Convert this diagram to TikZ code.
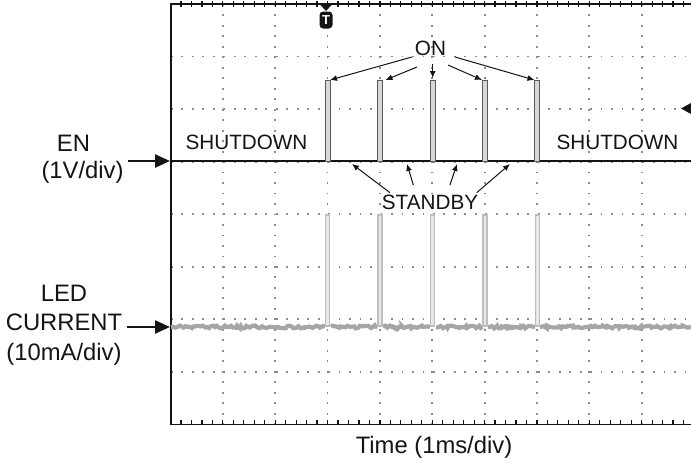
\documentclass[tikz,border=0pt]{standalone}
\usepackage{fontspec}
\setmainfont{Liberation Sans}
\usepackage{xcolor}
\usetikzlibrary{arrows.meta,calc,decorations.pathmorphing}
\definecolor{Trace}{HTML}{141414}
\definecolor{GridDot}{HTML}{8C8C8C}
\definecolor{LedGrey}{HTML}{A6A6A6}
\definecolor{PulseGrey}{HTML}{BEBEBE}

\begin{document}
\begin{tikzpicture}[x=0.5pt,y=-0.5pt,
    callout/.style={draw=Trace,line width=0.5pt,-{Latex[length=3.5pt,width=3pt]}},
    probe/.style={draw=Trace,line width=1.2pt,-{Triangle[length=7.5pt,width=6.5pt]}},
    tag/.style={font=\fontsize{10.35}{12}\selectfont,text=Trace,inner sep=0pt},
    axislabel/.style={font=\fontsize{11.9}{14.75}\selectfont,text=Trace,inner sep=2pt,align=center},
    griddot/.style={draw=GridDot,line width=0.9pt,dash pattern=on 0.9pt off 4.34pt},
    ledtrace/.style={draw=LedGrey,line width=2.1pt,decorate,
        decoration={random steps,segment length=1pt,amplitude=0.7pt}}]
    \useasboundingbox (0,0) rectangle (691,466);
    \pgfmathsetseed{7}

    % graticule
    \foreach \i in {1,...,9}
        \draw[griddot] ({170.5+52.35*\i},4) -- ++(0,420.4);
    \foreach \j in {1,...,7}
        \draw[griddot] (171,{4+52.55*\j}) -- (691,{4+52.55*\j});
    \foreach \k in {1,...,49} {
        \draw[Trace,line width=0.6pt] ({170.5+10.47*\k},1) -- ++(0,6);
        \draw[Trace,line width=0.6pt] ({170.5+10.47*\k},424.4) -- ++(0,-4);
    }
    \draw[Trace,line width=0.8pt] (691,4) -- (171,4) -- (171,424.4) -- (691,424.4);

    % markers
    \fill[Trace] (320.5,5) -- (331.5,5) -- (326,11) -- cycle;
    \node[fill=Trace,text=white,rounded corners=1.8pt,inner sep=0.6pt,
        minimum width=6.5pt,minimum height=8.5pt,font=\bfseries\fontsize{6.5}{6.5}\selectfont]
        (trig) at (326,20) {T};
    \fill[Trace] (681,108.5) -- (691,103) -- (691,114) -- cycle;

    % LED current
    \foreach \a/\b in {171/325,331/377.5,383/430,436/482.5,488/535,540/691}
        \draw[ledtrace] (\a,327) -- (\b,327);
    \foreach \x in {327.7,380,432.7,485,537.3}
        \draw[draw=PulseGrey,line width=0.7pt,fill=PulseGrey!35] ({\x-2},326) rectangle ({\x+2},215);

    % EN
    \draw[Trace,line width=1.4pt] (171,161) -- (691,161);
    \foreach \x in {327.7,380,432.7,485,537.3}
        \draw[draw=Trace!70,line width=0.5pt,fill=PulseGrey!60] ({\x-2.5},161) rectangle ({\x+2.5},80);

    \coordinate (entrace) at (170,161);
    \coordinate (ledtrace) at (170,327);
    \coordinate (on1) at (330,80);
    \coordinate (on2) at (385.5,80);
    \coordinate (on3) at (432.7,78);
    \coordinate (on4) at (482,80);
    \coordinate (on5) at (534.5,80);
    \coordinate (sb1) at (352,164);
    \coordinate (sb2) at (407,164);
    \coordinate (sb3) at (457,164);
    \coordinate (sb4) at (510,164);

    % labels
    \node[axislabel] (en) at (73.5,143) {EN};
    \node[axislabel] (endiv) at (82.5,172) {(1V/div)};
    \node[axislabel] (led) at (64,325) {LED\\CURRENT\\(10mA/div)};
    \node[axislabel] (timelabel) at (434,447) {Time (1ms/div)};
    \node[tag] (offleft) at (246.5,142.5) {SHUTDOWN};
    \node[tag] (offright) at (617.5,142.5) {SHUTDOWN};
    \node[tag] (ontag) at (430.5,48.5) {ON};
    \node[tag] (standby) at (430,202.5) {STANDBY};

    \draw[probe] (endiv.east |- entrace) -- (entrace);
    \draw[probe] (led.east |- ledtrace) -- (ledtrace);
    \foreach \dx/\dy/\tip in {-18.5/8.5/on1,-13.5/18.5/on2,2.2/15.5/on3,17.5/16.5/on4,24.5/8.5/on5}
        \draw[callout] ($(ontag.center)+(\dx,\dy)$) -- (\tip);
    \foreach \dx/\dy/\tip in {-40/-9.8/sb1,-16.7/-17.5/sb2,20/-17.5/sb3,46.7/-9.8/sb4}
        \draw[callout] ($(standby.center)+(\dx,\dy)$) -- (\tip);
\end{tikzpicture}
\end{document}
